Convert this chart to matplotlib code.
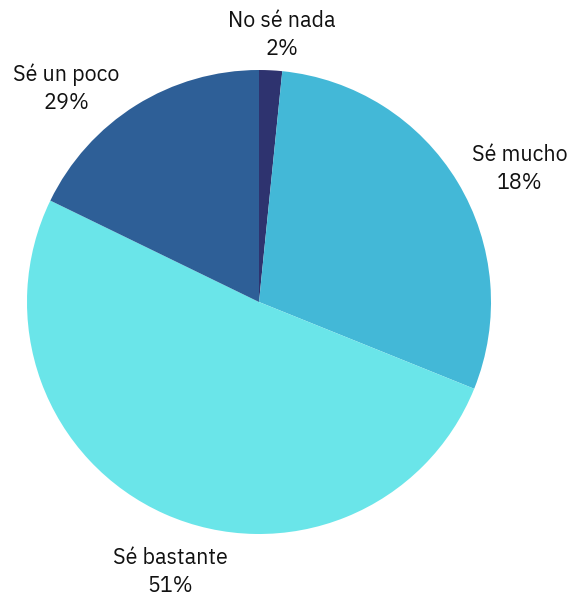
import matplotlib.pyplot as plt

plt.rcParams['font.family'] = ['IBM Plex Sans', 'Open Sans', 'DejaVu Sans']

# slice sizes as drawn (clockwise from the top)
categorias = ['No sé nada', 'Sé mucho', 'Sé bastante', 'Sé un poco']
tamanos = [1.6, 29.5, 51.1, 17.8]
# texto de las etiquetas tal como aparece
etiquetas_pct = ['2%', '18%', '51%', '29%']
colores = ['#2e336f', '#43b8d7', '#6ae5e9', '#2e5f97']
# posiciones de las etiquetas (en radios del pastel)
label_xy = [(0.10, 1.152), (1.125, 0.575), (-0.384, -1.165), (-0.832, 0.92)]

fig = plt.figure(figsize=(5.72, 5.96), dpi=100)
ax = fig.add_axes([27 / 572, 62 / 596, 464 / 572, 464 / 596])

ax.pie(tamanos, colors=colores, startangle=90, counterclock=False,
       radius=1, wedgeprops=dict(linewidth=0))

for cat, pct, (x, y) in zip(categorias, etiquetas_pct, label_xy):
    ax.text(x, y, cat + '\n' + pct, ha='center', va='center',
            fontsize=15.5, color='#111111', linespacing=1.35, clip_on=False)

ax.set_xlim(-1, 1)
ax.set_ylim(-1, 1)
ax.set_aspect('auto')
ax.axis('off')

fig.savefig('out.png', dpi=100)
